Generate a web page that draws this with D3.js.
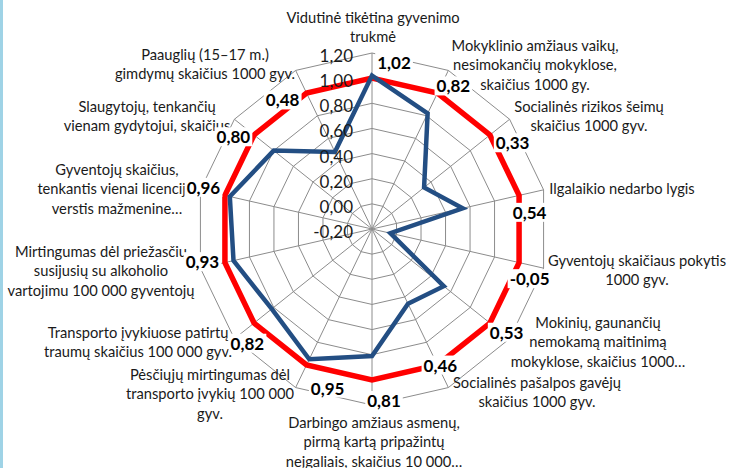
<!DOCTYPE html>
<html>
<head>
<meta charset="utf-8">
<script src="https://cdn.jsdelivr.net/npm/d3@7"></script>
<style>
  body { margin: 0; background: #fff; }
  svg { display: block; font-family: Lato, "Open Sans", sans-serif; }
  .cat { font-size: 14.7px; fill: #1a1a1a; }
  .tick { font-size: 17px; fill: #1a1a1a; }
  .val { font-size: 17px; font-weight: bold; fill: #000; }
</style>
</head>
<body>
<svg width="729" height="468"></svg>
<script>
// categories, clockwise from the top
var categories = [
  ["Vidutinė tikėtina gyvenimo", "trukmė"],
  ["Mokyklinio amžiaus vaikų,", "nesimokančių mokyklose,", "skaičius 1000 gy."],
  ["Socialinės rizikos šeimų", "skaičius 1000 gyv."],
  ["Ilgalaikio nedarbo lygis"],
  ["Gyventojų skaičiaus pokytis", "1000 gyv."],
  ["Mokinių, gaunančių", "nemokamą maitinimą", "mokyklose, skaičius 1000…"],
  ["Socialinės pašalpos gavėjų", "skaičius 1000 gyv."],
  ["Darbingo amžiaus asmenų,", "pirmą kartą pripažintų", "neįgaliais, skaičius 10 000…"],
  ["Pėsčiųjų mirtingumas dėl", "transporto įvykių 100 000", "gyv."],
  ["Transporto įvykiuose patirtų", "traumų skaičius 100 000 gyv."],
  ["Mirtingumas dėl priežasčių", "susijusių su alkoholio", "vartojimu 100 000 gyventojų"],
  ["Gyventojų skaičius,", "tenkantis vienai licencijai", "verstis mažmenine…"],
  ["Slaugytojų, tenkančių", "vienam gydytojui, skaičius"],
  ["Paauglių (15–17 m.)", "gimdymų skaičius 1000 gyv."]
];

var municipality = [1.02, 0.82, 0.33, 0.54, -0.05, 0.53, 0.46, 0.81, 0.95, 0.82, 0.93, 0.96, 0.80, 0.48];
var average = [1, 1, 1, 1, 1, 1, 1, 1, 1, 1, 1, 1, 1, 1];

var ticks = [-0.2, 0, 0.2, 0.4, 0.6, 0.8, 1.0, 1.2];

// label layout (first line centre, px) and value label nudges from the outer ring vertex
var catPos = [[373, 18], [535, 46], [589, 107], [622, 189], [637, 261], [598, 323], [537, 383],
              [374, 423], [210, 375], [138, 333], [101, 252], [117, 170], [147, 107], [205, 55]];
var valNudge = [[22, 10], [5, 16], [3, 24], [-14, 23], [-14, 11], [-3, -6], [-8, -22],
                [12, -4], [32, 1], [13, 5], [2, -6], [3, -2], [-1, 18], [-13, 30]];

var svg = d3.select("svg"),
    cx = 372, cy = 229,
    n = categories.length;

var fmt = function(v) { return d3.format(".2f")(v).replace("\u2212", "-").replace(".", ","); };

var r = d3.scaleLinear().domain([-0.2, 1.2]).range([0, 176]);
var angle = d3.scaleLinear().domain([0, n]).range([0, 2 * Math.PI]);

function pt(i, v) {
  var a = angle(i);
  return [cx + r(v) * Math.sin(a), cy - r(v) * Math.cos(a)];
}

// slide border on the left
svg.append("rect").attr("x", 0).attr("y", 0).attr("width", 3).attr("height", 468).attr("fill", "#9fd3e6");

var g = svg.append("g").attr("transform", "translate(" + cx + "," + cy + ")");

var radial = d3.lineRadial()
    .angle(function(d, i) { return angle(i); })
    .radius(function(d) { return r(d); })
    .curve(d3.curveLinearClosed);

// grid rings
g.selectAll(".ring")
  .data(ticks.slice(1))
  .enter().append("path")
    .attr("class", "ring")
    .attr("d", function(t) { return radial(d3.range(n).map(function() { return t; })); })
    .attr("fill", "none")
    .attr("stroke", "#8c8c8c")
    .attr("stroke-width", 1);

// spokes
g.selectAll(".spoke")
  .data(d3.range(n))
  .enter().append("line")
    .attr("class", "spoke")
    .attr("x1", 0).attr("y1", 0)
    .attr("x2", function(i) { return pt(i, 1.2)[0] - cx; })
    .attr("y2", function(i) { return pt(i, 1.2)[1] - cy; })
    .attr("stroke", "#8c8c8c")
    .attr("stroke-width", 1);

// series
g.append("path")
  .attr("d", radial(average))
  .attr("fill", "none")
  .attr("stroke", "#ff0000")
  .attr("stroke-width", 5.5)
  .attr("stroke-linejoin", "miter");

g.append("path")
  .attr("d", radial(municipality))
  .attr("fill", "none")
  .attr("stroke", "#234e83")
  .attr("stroke-width", 4.5)
  .attr("stroke-linejoin", "miter");

// radial tick labels
svg.selectAll(".tick")
  .data(ticks)
  .enter().append("text")
    .attr("class", "tick")
    .attr("x", cx - 19)
    .attr("y", function(t) { return cy - r(t) + 9; })
    .attr("text-anchor", "end")
    .text(fmt);

// category labels
var cat = svg.selectAll(".cat")
  .data(categories)
  .enter().append("text")
    .attr("class", "cat")
    .attr("text-anchor", "middle");

cat.selectAll("tspan")
  .data(function(d, i) { return d.map(function(s) { return { s: s, i: i }; }); })
  .enter().append("tspan")
    .attr("x", function(d) { return catPos[d.i][0]; })
    .attr("y", function(d, j) { return catPos[d.i][1] + 5 + j * 19.3; })
    .text(function(d) { return d.s; });

// value labels with white boxes
var vl = svg.selectAll(".vl")
  .data(municipality)
  .enter().append("g")
    .attr("class", "vl")
    .attr("transform", function(d, i) {
      var p = pt(i, 1.2);
      return "translate(" + (p[0] + valNudge[i][0]) + "," + (p[1] + valNudge[i][1]) + ")";
    });

vl.append("rect");
vl.append("text")
  .attr("class", "val")
  .attr("text-anchor", "middle")
  .attr("y", 6)
  .text(fmt);

vl.each(function() {
  var b = d3.select(this).select("text").node().getBBox();
  d3.select(this).select("rect")
    .attr("x", b.x - 2).attr("y", b.y + 1)
    .attr("width", b.width + 4).attr("height", b.height - 2)
    .attr("fill", "#fff");
});
</script>
</body>
</html>
